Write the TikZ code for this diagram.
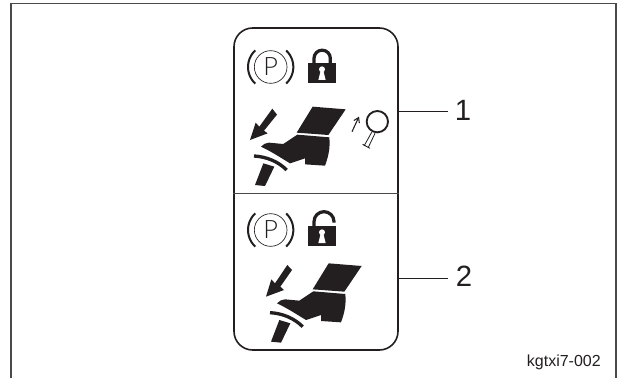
\documentclass[tikz,border=0pt]{standalone}
\usepackage{fontspec}
\usetikzlibrary{arrows.meta}
\setmainfont{Liberation Sans}
\newfontfamily\lightfont{Lato Light}
\definecolor{ink}{HTML}{231F20}
\definecolor{rulegrey}{HTML}{4A4A4A}
\tikzset{
  px/.style={x=0.75pt,y=-0.75pt},
  zoomunits/.style={x=0.25pt,y=-0.25pt},
  framerule/.style={draw=rulegrey,line width=1.1pt},
  panelbox/.style={draw=ink,line width=1.2pt,rounded corners=14pt,minimum width=123pt,minimum height=241.5pt,inner sep=0pt},
  leader/.style={draw=ink,line width=0.7pt},
  divider/.style={draw=rulegrey,line width=0.7pt},
  numlabel/.style={font=\fontsize{22}{22}\selectfont,text=ink,inner sep=0pt},
  blackfill/.style={fill=ink,draw=none},
  thinline/.style={draw=ink,line width=0.5pt},
  parc/.style={draw=ink,line width=1.5pt},
}
\newcommand{\ParkIcon}{%
  \draw[thinline] (137,141) circle (49);
  \node[inner sep=0pt,text=ink,font=\lightfont\fontsize{19}{19}\selectfont] at (137,141) {P};
  \draw[parc] (137,141) ++(133:68) arc (133:227:68);
  \draw[parc] (137,141) ++(-47:68) arc (-47:47:68);
}
\newcommand{\LockBody}{%
  \fill[ink] (250,130) rectangle (332,190);
}
\newcommand{\Keyhole}{%
  \fill[white] (291,148) circle (9);
  \fill[white] (287,152) -- (295,152) -- (302,180) -- (280,180) -- cycle;
}
\newcommand{\FootIcon}{%
  \path[blackfill] (263,260) -- (362,268) -- (310,345) -- (215,338) -- cycle;
  \path[blackfill] (108,380) .. controls (115,372) and (122,369) .. (132,368) -- (175,372) -- (217,344) -- (313,352)
     .. controls (316,385) and (310,410) .. (300,437) -- (240,433) -- (240,415) -- (195,430)
     .. controls (170,415) and (140,395) .. (108,380) -- cycle;
  \draw[ink,line width=2.5pt] (87,408) .. controls (125,410) and (160,425) .. (185,450);
  \path[blackfill] (115,430) -- (148,440) -- (120,498) -- (90,495) -- cycle;
}
\begin{document}
\begin{tikzpicture}[px]
\useasboundingbox (0,0) rectangle (624,378);
\fill[white] (0,0) rectangle (624,378);
\coordinate (fbl) at (11,378);
\coordinate (ftl) at (11,3.5);
\coordinate (ftr) at (616,3.5);
\coordinate (fbr) at (616,378);
\draw[framerule] (fbl) -- (ftl) -- (ftr) -- (fbr);
\node[panelbox] (panel) at (316,189) {};
\coordinate (divl) at (panel.west |- 0,193);
\coordinate (divr) at (panel.east |- 0,193);
\draw[divider] (divl) -- (divr);
\node[numlabel] (one) at (463,110.5) {1};
\node[numlabel] (two) at (464,276) {2};
\coordinate (oneend) at (447.5,111);
\coordinate (twoend) at (447.5,278);
\draw[leader] (panel.east |- oneend) -- (oneend);
\draw[leader] (panel.east |- twoend) -- (twoend);
\node[anchor=east,inner sep=0pt,text=ink,font=\fontsize{12}{12}\selectfont] (code) at (601,362) {kgtxi7-002};
% upper symbols
\begin{scope}[shift={(225,20)},zoomunits]
  \ParkIcon
  \draw[ink,line width=2.4pt] (267,135) -- (267,115) arc (180:360:24.5) -- (316,135);
  \LockBody
  \Keyhole
  \path[blackfill] (75,360) -- (92,308) -- (103,320) -- (142,266) -- (156,284) -- (117,332) -- (128,340) -- cycle;
  \FootIcon
  \draw[ink,line width=0.8pt,-{Straight Barb[length=3.5pt,width=4.5pt]}] (381,335) -- (402,290);
  \draw[ink,line width=1.4pt] (457,305) circle (32);
  \draw[ink,line width=0.6pt] (440,337) -- (417,378);
  \draw[ink,line width=0.6pt] (450,340) -- (430,382);
  \draw[ink,line width=0.7pt] (413,373) -- (435,385);
\end{scope}
% lower symbols
\begin{scope}[shift={(225,180)},zoomunits]
  \begin{scope}[yshift=-2.25pt]
    \ParkIcon
    \LockBody
    \Keyhole
  \end{scope}
  \draw[ink,line width=2.4pt] (267,142) -- (267,125) arc (180:360:30) -- (327,128);
  \path[blackfill] (123,350) -- (139,298) -- (150,310) -- (187,255) -- (201,270) -- (166,320) -- (177,330) -- cycle;
  \begin{scope}[xshift=12pt,yshift=2.5pt]
    \FootIcon
  \end{scope}
\end{scope}
\end{tikzpicture}
\end{document}
